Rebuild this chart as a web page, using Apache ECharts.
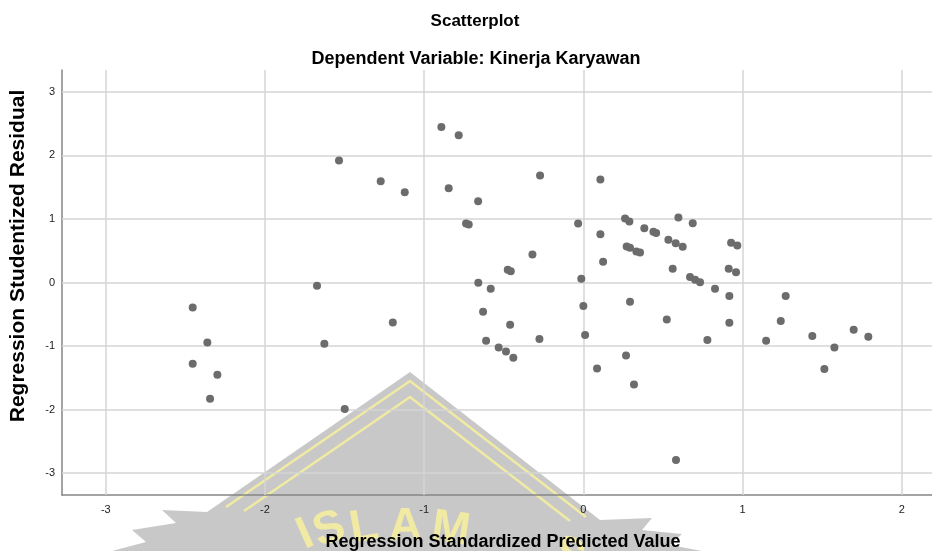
<!DOCTYPE html>
<html>
<head>
<meta charset="utf-8">
<script src="https://cdn.jsdelivr.net/npm/echarts@6/dist/echarts.min.js"></script>
<style>
  html, body { margin: 0; padding: 0; background: #ffffff; }
  #chart { width: 932px; height: 551px; }
</style>
</head>
<body>
<div id="chart"></div>
<script>
// Regression Standardized Predicted Value (x) for each case
const predicted = [
  -1.535, -1.673, -2.454, -2.362, -1.627, -2.454, -2.299, -2.345, -1.499,
  -1.273, -1.122, -0.892, -0.783, -0.846, -0.661, -0.272, -0.737, -0.720,
  -0.033, 0.107, 0.107, -0.320, -0.475, -0.456, 0.124, 0.262, 0.289,
  0.383, 0.440, 0.457, 0.272, 0.293, 0.333, 0.356, -0.013, -0.660,
  -0.582, 0.293, -0.630, 0.000, -1.197, -0.460, 0.011, -0.611, -0.276,
  -0.532, -0.486, -0.440, 0.268, 0.086, 0.318, 0.597, 0.687, 0.534,
  0.580, 0.624, 0.928, 0.967, 0.561, 0.913, 0.959, 0.670, 0.702,
  0.733, 0.827, 0.917, 1.271, 0.524, 0.917, 1.240, 0.779, 1.148,
  1.438, 1.698, 1.790, 1.577, 1.514, 0.582
];

// Regression Studentized Residual (y) for the same cases
const residual = [
  1.918, -0.052, -0.393, -0.943, -0.964, -1.278, -1.451, -1.829, -1.991,
  1.594, 1.421, 2.448, 2.317, 1.484, 1.279, 1.683, 0.928, 0.912,
  0.928, 1.620, 0.761, 0.440, 0.200, 0.179, 0.325, 1.006, 0.959,
  0.855, 0.797, 0.777, 0.566, 0.546, 0.487, 0.472, 0.058, -0.005,
  -0.099, -0.303, -0.461, -0.371, -0.629, -0.665, -0.827, -0.917, -0.890,
  -1.022, -1.085, -1.184, -1.148, -1.352, -1.604, 1.022, 0.934, 0.671,
  0.619, 0.561, 0.624, 0.582, 0.215, 0.215, 0.163, 0.085, 0.042,
  0.005, -0.099, -0.214, -0.214, -0.582, -0.634, -0.607, -0.906, -0.917,
  -0.843, -0.744, -0.854, -1.022, -1.362, -2.793
];

const xTicks = [-3, -2, -1, 0, 1, 2];
const yTicks = [3, 2, 1, 0, -1, -2, -3];

const chartTitle = 'Scatterplot';
const chartSubtitle = 'Dependent Variable: Kinerja Karyawan';
const xTitle = 'Regression Standardized Predicted Value';
const yTitle = 'Regression Studentized Residual';

const FONT = '"Liberation Sans", Arial, Helvetica, sans-serif';

const points = predicted.map((x, i) => [x, residual[i]]);

const gridLines = []
  .concat(xTicks.map(v => ({ xAxis: v })))
  .concat(yTicks.map(v => ({ yAxis: v })));

// University crest watermark sitting behind the lower part of the plot
const crestGray = 'rgba(110,110,110,0.38)';
const crestYellow = 'rgba(255,246,150,0.75)';
const crestFont = 'bold 46px ' + FONT;
function crestLetter(ch, x, y, rot) {
  return {
    type: 'text', x: x, y: y, rotation: rot,
    style: { text: ch, font: crestFont, fill: crestYellow, align: 'center', verticalAlign: 'top' }
  };
}
const crest = {
  type: 'group',
  z: 50,
  silent: true,
  children: [
    {
      type: 'polygon',
      shape: {
        points: [
          [410, 372], [207, 512], [162, 510], [176, 523], [132, 530], [146, 542], [112, 551],
          [702, 551], [670, 545], [682, 534], [642, 530], [652, 518], [600, 520]
        ]
      },
      style: { fill: crestGray }
    },
    {
      type: 'polyline',
      shape: { points: [[226, 507], [410, 381], [586, 517]] },
      style: { stroke: crestYellow, lineWidth: 2.5, fill: null }
    },
    {
      type: 'polyline',
      shape: { points: [[244, 511], [410, 397], [570, 521]] },
      style: { stroke: crestYellow, lineWidth: 2.5, fill: null }
    },
    crestLetter('I', 296, 514, 0.42),
    crestLetter('S', 322, 508, 0.32),
    crestLetter('L', 360, 505, 0.18),
    crestLetter('A', 405, 504, 0.02),
    crestLetter('M', 454, 507, -0.14),
    crestLetter('S', 578, 535, -0.5)
  ]
};

function label(text, x, y, size, rotation) {
  return {
    type: 'text', x: x, y: y, z: 100, rotation: rotation || 0, silent: true,
    style: {
      text: text, font: 'bold ' + size + 'px ' + FONT, fill: '#000000',
      align: 'center', verticalAlign: 'middle'
    }
  };
}

const chart = echarts.init(document.getElementById('chart'), null, { renderer: 'canvas' });

chart.setOption({
  backgroundColor: '#ffffff',
  animation: false,
  grid: { left: 62, right: 0, top: 70, bottom: 56, containLabel: false },
  xAxis: {
    type: 'value',
    min: -3.275,
    max: 2.19,
    splitLine: { show: false },
    axisTick: { show: false },
    axisLine: { show: true, onZero: false, lineStyle: { color: '#858585', width: 1.5 } },
    axisLabel: {
      customValues: xTicks,
      margin: 9,
      fontSize: 11,
      fontFamily: FONT,
      color: '#222222'
    }
  },
  yAxis: {
    type: 'value',
    min: -3.344,
    max: 3.344,
    splitLine: { show: false },
    axisTick: { show: false },
    axisLine: { show: true, onZero: false, lineStyle: { color: '#858585', width: 1.5 } },
    axisLabel: {
      customValues: yTicks,
      margin: 7,
      fontSize: 11,
      fontFamily: FONT,
      color: '#222222'
    }
  },
  series: [
    {
      type: 'scatter',
      data: points,
      symbol: 'circle',
      symbolSize: 8,
      z: 3,
      itemStyle: { color: '#6c6c6c', opacity: 1 },
      emphasis: { disabled: true },
      markLine: {
        silent: true,
        z: 1,
        symbol: ['none', 'none'],
        label: { show: false },
        lineStyle: { color: '#d4d4d4', width: 1.5, type: 'solid' },
        emphasis: { disabled: true },
        data: gridLines
      }
    }
  ],
  graphic: [
    crest,
    label(chartTitle, 475, 21, 17),
    label(chartSubtitle, 476, 59, 18),
    label(xTitle, 503, 542, 18),
    label(yTitle, 18, 256, 21, Math.PI / 2)
  ]
});
</script>
</body>
</html>
